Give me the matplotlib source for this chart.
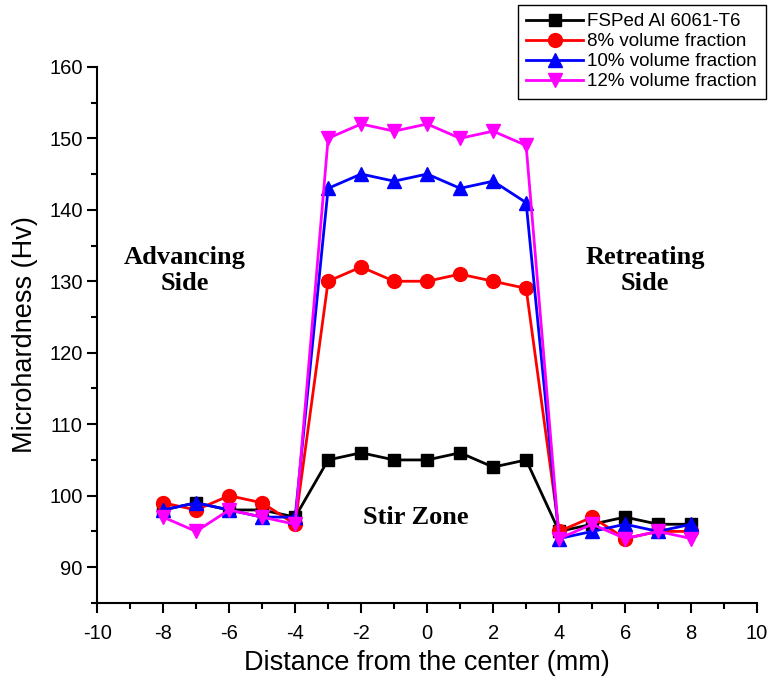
import numpy as np
import matplotlib.pyplot as plt
from matplotlib.ticker import MultipleLocator

plt.rcParams['font.family'] = ['Liberation Sans', 'DejaVu Sans']
plt.rcParams['axes.unicode_minus'] = False

# distance from the center (mm)
x = [-8, -7, -6, -5, -4, -3, -2, -1, 0, 1, 2, 3, 4, 5, 6, 7, 8]

# microhardness (Hv)
base = [98, 99, 98, 98, 97, 105, 106, 105, 105, 106, 104, 105, 95, 96, 97, 96, 96]
vf8 = [99, 98, 100, 99, 96, 130, 132, 130, 130, 131, 130, 129, 95, 97, 94, 95, 95]
vf10 = [98, 99, 98, 97, 97, 143, 145, 144, 145, 143, 144, 141, 94, 95, 96, 95, 96]
vf12 = [97, 95, 98, 97, 96, 150, 152, 151, 152, 150, 151, 149, 94, 96, 94, 95, 94]

labels = ["FSPed Al 6061-T6", "8% volume fraction", "10% volume fraction", "12% volume fraction"]

fig = plt.figure(figsize=(7.71, 6.89), dpi=100)
ax = fig.add_axes([0.126, 0.125, 0.856, 0.778])

ax.plot(x, base, color="black", marker="s", markersize=8.5, linewidth=2, label=labels[0])
ax.plot(x, vf8, color="red", marker="o", markersize=10, linewidth=2, label=labels[1])
ax.plot(x, vf10, color="blue", marker="^", markersize=10, linewidth=2, label=labels[2])
ax.plot(x, vf12, color="magenta", marker="v", markersize=10, linewidth=2, label=labels[3])

ax.set_xlim(-10, 10)
ax.set_ylim(85, 160)
ax.xaxis.set_major_locator(MultipleLocator(2))
ax.xaxis.set_minor_locator(MultipleLocator(1))
ax.yaxis.set_minor_locator(MultipleLocator(5))
ax.set_yticks(np.arange(90, 161, 10))
ax.spines["top"].set_visible(False)
ax.spines["right"].set_visible(False)
ax.spines["left"].set_linewidth(1.5)
ax.spines["bottom"].set_linewidth(1.5)
ax.tick_params(which="major", direction="out", length=7, width=1.5, labelsize=14.5)
ax.tick_params(axis="x", which="major", pad=8)
ax.tick_params(which="minor", direction="out", length=4, width=1.5)

ax.set_xlabel("Distance from the center (mm)", fontsize=19.5, labelpad=5)
ax.set_ylabel("Microhardness (Hv)", fontsize=19.5, labelpad=8)

serif = ["Liberation Serif", "DejaVu Serif"]
ax.text(-7.35, 131.5, "Advancing\nSide", ha="center", va="center", fontsize=19,
        fontweight="bold", family=serif, linespacing=1.15)
ax.text(6.6, 131.5, "Retreating\nSide", ha="center", va="center", fontsize=19,
        fontweight="bold", family=serif, linespacing=1.15)
ax.text(-0.35, 96.9, "Stir Zone", ha="center", va="center", fontsize=19,
        fontweight="bold", family=serif)

leg = fig.legend(loc="upper right", bbox_to_anchor=(0.993, 0.993), fontsize=13.5,
                 frameon=True, fancybox=False, edgecolor="black", framealpha=1,
                 handlelength=3.0, borderpad=0.45, labelspacing=0.15, handletextpad=0.25,
                 borderaxespad=0)
leg.get_frame().set_linewidth(1)

fig.savefig("out.png", dpi=100)
